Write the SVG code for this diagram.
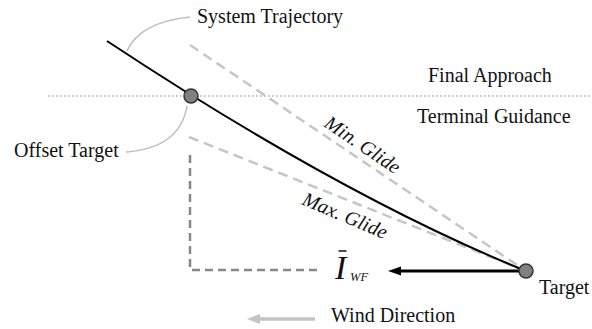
<svg xmlns="http://www.w3.org/2000/svg" width="592" height="329" viewBox="0 0 592 329">
<style>
text{font-family:'Liberation Serif','Times New Roman',serif;font-size:20px;fill:#111}
.it{font-style:italic}
.glide{fill:none;stroke:#c6c6c6;stroke-width:2.5;stroke-dasharray:10,6}
.leader{fill:none;stroke:#bdbdbd;stroke-width:1.5}
.node{fill:#808080;stroke:#333;stroke-width:1.5}
</style>
<rect width="592" height="329" fill="#fff"/>
<g id="connectors">
  <line x1="48" y1="96" x2="592" y2="96" stroke="#aaa" stroke-width="1.5" stroke-dasharray="1.5,2.5"/>
  <line class="glide" x1="190" y1="45" x2="526" y2="271"/>
  <line class="glide" x1="189" y1="137" x2="526" y2="271"/>
  <path d="M190,155 V270 H318" fill="none" stroke="#888" stroke-width="2.5" stroke-dasharray="8,5"/>
  <path id="trajectory" d="M107,41 Q343,197 526,271" fill="none" stroke="#000" stroke-width="2"/>
  <path class="leader" d="M190,17 Q140,22 127,51"/>
  <path class="leader" d="M187,106 Q180,148 126,152"/>
  <line x1="519" y1="271" x2="398" y2="271" stroke="#000" stroke-width="3"/>
  <polygon points="388,271 401,266.5 401,275.5" fill="#000"/>
  <line x1="258" y1="319" x2="315" y2="319" stroke="#c4c4c4" stroke-width="3.5"/>
  <polygon points="247,319 260,314 260,324" fill="#c4c4c4"/>
</g>
<g id="offset-target">
  <circle class="node" cx="191" cy="96" r="7"/>
  <text x="14" y="157">Offset Target</text>
</g>
<g id="target">
  <circle class="node" cx="526" cy="271" r="7"/>
  <text x="539" y="294">Target</text>
</g>
<g id="labels">
  <text x="197" y="23">System Trajectory</text>
  <text x="428" y="82">Final Approach</text>
  <text x="417" y="123">Terminal Guidance</text>
  <text class="it" transform="translate(323,126) rotate(34)">Min. Glide</text>
  <text class="it" transform="translate(301,204) rotate(23)">Max. Glide</text>
  <text x="331" y="322">Wind Direction</text>
</g>
<g id="iwf">
  <text class="it" x="335" y="279" style="font-size:34px">I</text>
  <line x1="338.5" y1="251" x2="346.5" y2="251" stroke="#111" stroke-width="1.5"/>
  <text class="it" x="350" y="281" style="font-size:12.5px">WF</text>
</g>
</svg>
